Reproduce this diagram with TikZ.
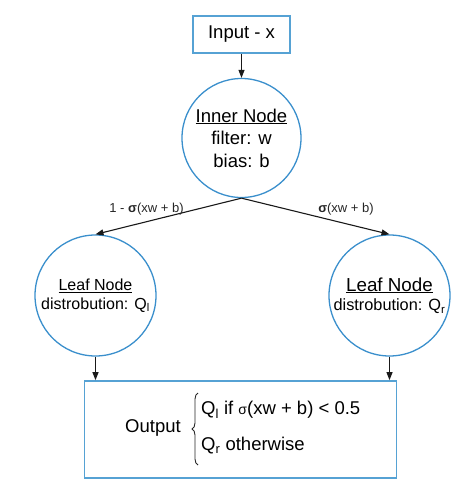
\documentclass[tikz,border=0pt]{standalone}
\usepackage{fontspec}
\setmainfont{Liberation Sans}
\usetikzlibrary{arrows.meta,decorations.pathreplacing}
\definecolor{circblue}{RGB}{58,143,204}
\definecolor{boxblue}{RGB}{86,162,212}
\begin{document}
\begin{tikzpicture}[x=1pt,y=-1pt,
  boxnode/.style={draw=boxblue,line width=1.8pt,inner sep=0pt},
  circnode/.style={draw=circblue,line width=1.3pt,circle,inner sep=0pt,align=center},
  conn/.style={-{Triangle[length=8pt,width=6pt]},line width=1.1pt,black!90},
  elabel/.style={font=\fontsize{13}{15}\selectfont,text=black!85,inner sep=1pt},
  outtext/.style={font=\fontsize{18.5}{22}\selectfont,inner sep=0pt}]
\useasboundingbox (0,0) rectangle (467,493);
\node[boxnode,minimum width=97pt,minimum height=37pt,font=\fontsize{18.5}{22}\selectfont] (in) at (241.5,34.5) {Input - x};
\node[circnode,minimum size=119pt,font=\fontsize{18.5}{22.5}\selectfont] (inner) at (241.5,138) {\underline{Inner Node}\\filter: w\\bias: b};
\node[circnode,minimum size=121pt,font=\fontsize{16}{19}\selectfont] (ll) at (95.5,295.5) {\underline{Leaf Node}\\distrobution: Q\textsubscript{l}};
\node[circnode,minimum size=121pt,font=\fontsize{16.3}{19.5}\selectfont] (lr) at (389.5,295.5) {\fontsize{18.8}{21}\selectfont\underline{Leaf Node}\\distrobution: Q\textsubscript{r}};
\node[boxnode,minimum width=312pt,minimum height=97pt] (out) at (240.5,429.5) {};
\node[outtext] (outtxt) at (153,428) {Output};
\coordinate (bb) at (198,465);
\coordinate (bt) at (198,393);
\draw[decorate,decoration={brace,amplitude=6pt},line width=0.9pt,black!85] (bb) -- (bt);
\node[outtext,anchor=west] (q1) at (201,410) {Q\textsubscript{l} if {\fontsize{14}{16}\selectfont σ}(xw + b) < 0.5};
\node[outtext,anchor=west] (q2) at (201,446) {Q\textsubscript{r} otherwise};
\draw[conn] (in.south) -- (inner.north);
\draw[conn] (inner.south) -- (ll.north);
\draw[conn] (inner.south) -- (lr.north);
\draw[conn] (ll.south) -- (ll.south |- out.north);
\draw[conn] (lr.south) -- (lr.south |- out.north);
\node[elabel] (lbl1) at (146.5,209) {1 - \textbf{σ}(xw + b)};
\node[elabel] (lbl2) at (346,209) {\textbf{σ}(xw + b)};
\end{tikzpicture}
\end{document}
